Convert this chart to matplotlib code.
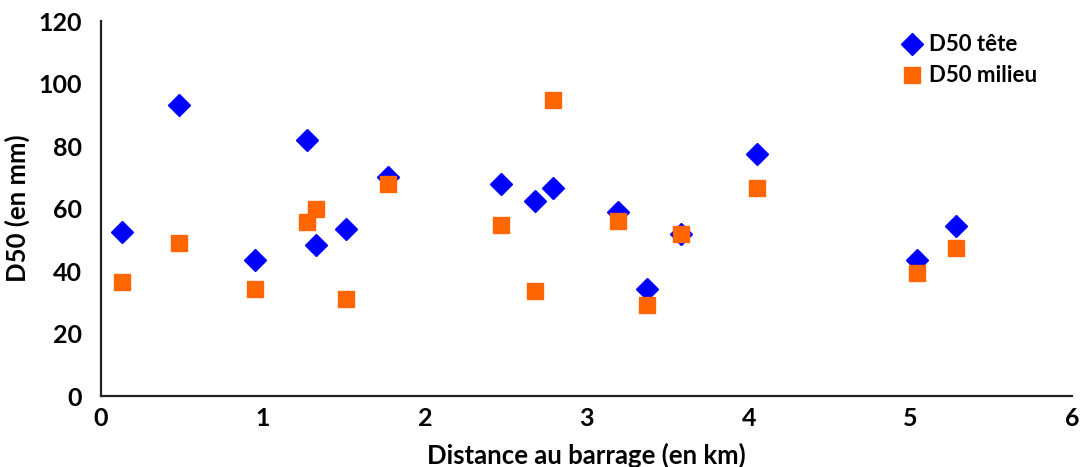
import matplotlib.pyplot as plt

plt.rcParams['font.family'] = ['Lato', 'DejaVu Sans']
plt.rcParams['font.weight'] = 'bold'

# Distance au barrage (km)
dist = [0.13, 0.48, 0.95, 1.27, 1.33, 1.51, 1.77, 2.47, 2.68, 2.79, 3.19, 3.37, 3.58, 4.05, 5.04, 5.28]
d50_tete = [52.5, 93.1, 43.5, 81.9, 48.3, 53.4, 70.0, 67.8, 62.4, 66.6, 58.9, 34.2, 51.8, 77.4, 43.5, 54.4]
d50_milieu = [36.5, 49.0, 34.2, 55.7, 59.8, 31.0, 67.8, 54.7, 33.6, 94.7, 56.0, 29.0, 51.8, 66.6, 39.4, 47.4]

fig = plt.figure(figsize=(10.83, 4.67), dpi=100)
axe = fig.add_axes([0.0933, 0.152, 0.897, 0.803])

axe.plot(dist, d50_tete, 'D', color='#0000ff', markersize=11.5, linestyle='none', label='D50 tête')
axe.plot(dist, d50_milieu, 's', color='#ff6600', markersize=12, linestyle='none', label='D50 milieu')

axe.set_xlim(0, 6)
axe.set_ylim(0, 120)
axe.set_xticks(range(0, 7))
axe.set_yticks(range(0, 121, 20))
axe.tick_params(length=0, labelsize=18)
axe.tick_params(axis='y', pad=14)
axe.tick_params(axis='x', pad=8)
for s in ['top', 'right']:
    axe.spines[s].set_visible(False)
for s in ['left', 'bottom']:
    axe.spines[s].set_linewidth(1.6)
    axe.spines[s].set_color('#222222')

axe.set_xlabel('Distance au barrage (en km)', fontsize=18.5, fontweight='bold', labelpad=9)
axe.set_ylabel('D50 (en mm)', fontsize=18.5, fontweight='bold', labelpad=6)

axe.legend(loc='upper left', bbox_to_anchor=(0.808, 1.0), frameon=False, fontsize=16,
           handletextpad=0.25, labelspacing=0.45, handlelength=1.1, borderaxespad=0.2)

fig.savefig('out.png', dpi=100)
